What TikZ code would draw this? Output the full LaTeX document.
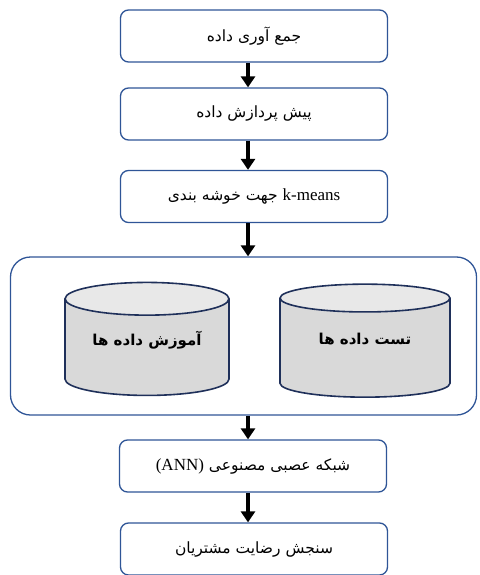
\documentclass[tikz,border=0pt]{standalone}
\usepackage{fontspec}
\setmainfont{Liberation Serif}
\newfontfamily\farsi[Script=Arabic]{DejaVu Sans}
\TeXXeTstate=1
\usetikzlibrary{arrows.meta,positioning,shapes.geometric}
\definecolor{boxblue}{RGB}{47,85,151}
\definecolor{dbnavy}{RGB}{31,48,90}
\definecolor{dbbody}{RGB}{217,217,217}
\definecolor{dbtop}{RGB}{232,232,232}
\newcommand{\rtl}[1]{\beginR #1\endR}
\newcommand{\ltr}[1]{\beginL{#1}\endL{}}
\newcommand{\latn}{\rmfamily\fontsize{17}{19}\selectfont}

\begin{document}
\begin{tikzpicture}[
  x=1pt,y=-1pt,
  box/.style={draw=boxblue, line width=1.3pt, rounded corners=8pt, fill=white, minimum width=267pt, minimum height=52pt, font=\farsi\fontsize{15.5}{17}\selectfont, inner sep=2pt},
  db/.style={cylinder, shape border rotate=90, draw=dbnavy, line width=1.6pt, cylinder uses custom fill, cylinder end fill=dbtop, cylinder body fill=dbbody, minimum height=113pt, aspect=0.3, font=\farsi\bfseries\fontsize{15}{16}\selectfont, inner sep=0pt},
  arr/.style={-{Triangle[length=11pt,width=14pt]}, line width=3.6pt}
]
\useasboundingbox (0,0) rectangle (479,575);
\node[box] (collect) at (254,36) {\rtl{جمع آوری داده}};
\node[box] (prep) at (254,114) {\rtl{پیش پردازش داده}};
\node[box] (kmeans) at (254,196.5) {\rtl{\ltr{\latn k-means} جهت خوشه بندی}};
\node[draw=boxblue, line width=1.3pt, rounded corners=20pt, minimum width=466pt, minimum height=158pt] (split) at (243.5,336) {};
\node[db, minimum width=164pt] (train) at (147,347.5) {\raisebox{18pt}{\rtl{آموزش داده ها}}};
\node[db, minimum width=170pt] (test) at (365,348) {\raisebox{18pt}{\rtl{تست داده ها}}};
\node[box] (ann) at (253,466) {\rtl{شبکه عصبی مصنوعی \ltr{\latn(ANN)}}};
\node[box] (satisf) at (254,549) {\rtl{سنجش رضایت مشتریان}};
\draw[arr] ([xshift=-6pt]collect.south) -- ([xshift=-6pt]prep.north);
\draw[arr] ([xshift=-6pt]prep.south) -- ([xshift=-6pt]kmeans.north);
\draw[arr] ([xshift=-6pt]kmeans.south) -- ([xshift=4.5pt]split.north);
\draw[arr] ([xshift=4.5pt]split.south) -- ([xshift=-5pt]ann.north);
\draw[arr] ([xshift=-5pt]ann.south) -- ([xshift=-6pt]satisf.north);
\end{tikzpicture}
\end{document}
